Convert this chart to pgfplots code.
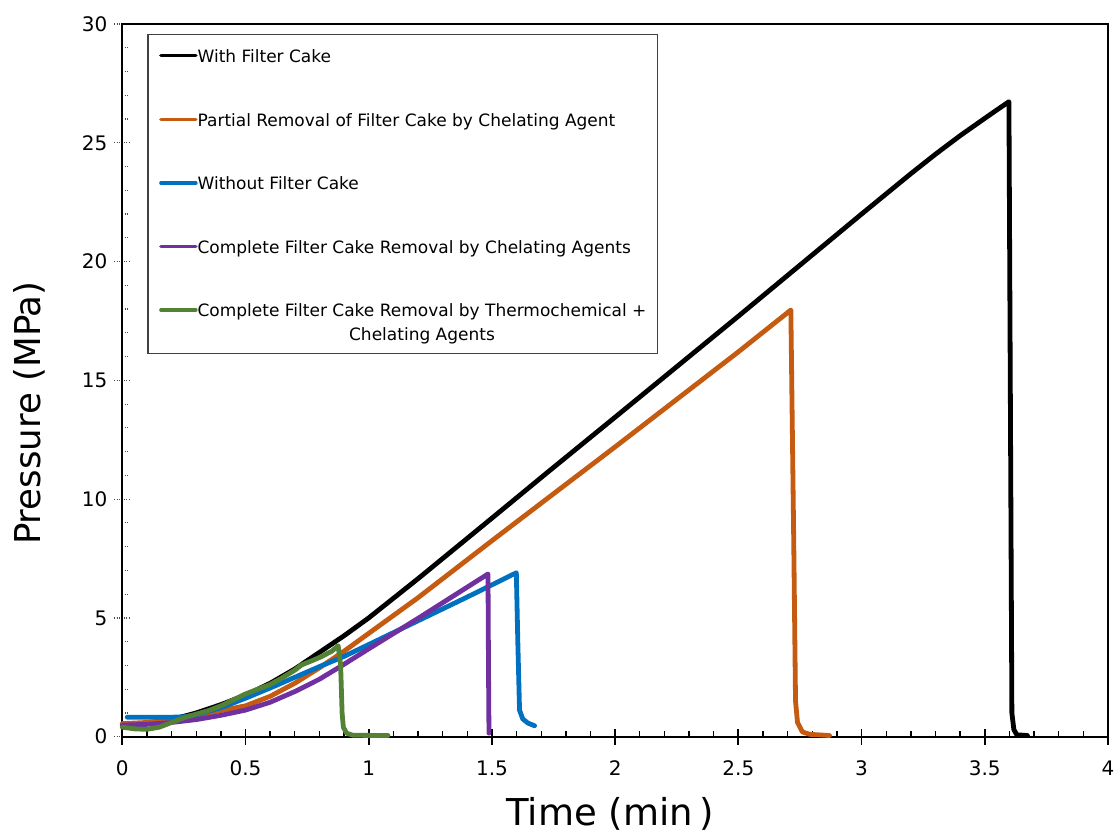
\documentclass[border=0pt]{standalone}
\usepackage{pgfplots}
\pgfplotsset{compat=1.18}
\usepackage{fontspec}
\setmainfont{DejaVu Sans}
\definecolor{cOrange}{RGB}{197,90,17}
\definecolor{cBlue}{RGB}{0,112,192}
\definecolor{cPurple}{RGB}{112,48,160}
\definecolor{cGreen}{RGB}{84,130,53}
\pgfplotsset{raisedlegend/.style={legend image code/.code={\draw[##1, line width=1.7pt] (0pt,6pt) -- (17.5pt,6pt);}}}
\newcommand{\thermo}{\begin{tabular}[b]{@{}c@{}}Complete Filter Cake Removal by Thermochemical +\\Chelating Agents\end{tabular}}
\begin{document}
\begin{tikzpicture}
\path[use as bounding box] (-61.15pt,-47.65pt) rectangle (496.35pt,368.35pt);
\begin{axis}[
  scale only axis, width=492.85pt, height=356.35pt,
  xmin=0, xmax=4, ymin=0, ymax=30,
  clip=false,
  xtick={0,0.5,...,4}, ytick={0,5,...,30},
  minor x tick num=4, minor y tick num=4,
  axis line style={line width=0.9pt},
  tick align=center,
  xtick pos=bottom, ytick pos=left,
  major tick length=8pt, minor tick length=3pt,
  major x tick style={line width=0.9pt, black},
  minor x tick style={line width=0.7pt, black, yshift=1.5pt},
  major y tick style={densely dotted, line width=0.6pt, black!70},
  minor y tick style={densely dotted, line width=0.6pt, black!70, xshift=1.5pt},
  /pgf/number format/assume math mode=true,
  tick label style={font=\fontsize{10}{12}\selectfont},
  xticklabel style={yshift=-4.5pt},
  xlabel={Time (min\,)},
  ylabel={Pressure (MPa)},
  xlabel style={at={(axis description cs:0.4948,0)}, anchor=base, yshift=-44.2pt, font=\fontsize{18.5}{20}\selectfont},
  ylabel style={at={(axis description cs:-0.0825,0.454)}, anchor=base, font=\fontsize{17.8}{20}\selectfont},
  legend style={at={(0,1)}, anchor=north west, xshift=12.5pt, yshift=-5pt,
    draw=black!75, line width=0.7pt, inner xsep=5.6pt, inner ysep=4.2pt,
    row sep=20.15pt, column sep=0pt, font=\fontsize{8.5}{11.65}\selectfont,
    nodes={inner xsep=0pt, inner ysep=1pt}},
  legend cell align=left,
  legend image code/.code={\draw[#1, line width=1.7pt] (0pt,0pt) -- (17.5pt,0pt);},
  every axis plot/.append style={line width=2.4pt, line join=round, line cap=round},
]
\addplot[black] coordinates {(0,0.49)(0.1,0.55)(0.2,0.72)(0.3,1.0)(0.4,1.35)(0.5,1.75)(0.6,2.25)(0.7,2.85)(0.8,3.55)(0.9,4.25)(1.0,5.0)(1.2,6.65)(1.5,9.2)(1.734,11.2)(2.0,13.45)(2.5,17.7)(2.75,19.85)(3.0,22.0)(3.1,22.85)(3.2,23.7)(3.3,24.52)(3.4,25.3)(3.5,26.03)(3.55,26.39)(3.598,26.73)(3.61,1.0)(3.618,0.3)(3.63,0.08)(3.673,0.05)};
\addlegendentry{\rule{0pt}{8.65pt}With Filter Cake\strut}
\addplot[cOrange] coordinates {(0,0.55)(0.1,0.6)(0.2,0.72)(0.3,0.9)(0.4,1.1)(0.5,1.3)(0.6,1.7)(0.7,2.25)(0.8,2.9)(0.9,3.6)(1.0,4.35)(1.1,5.1)(1.2,5.85)(1.5,8.25)(1.734,10.1)(2.0,12.2)(2.5,16.2)(2.713,17.96)(2.725,8)(2.732,1.5)(2.74,0.6)(2.76,0.2)(2.79,0.1)(2.87,0.05)};
\addlegendentry{Partial Removal of Filter Cake by Chelating Agent\strut}
\addplot[cBlue] coordinates {(0.02,0.82)(0.1,0.82)(0.2,0.82)(0.25,0.84)(0.3,0.92)(0.4,1.22)(0.5,1.62)(0.6,2.05)(0.7,2.5)(0.8,2.95)(0.9,3.38)(1.0,3.88)(1.2,4.88)(1.4,5.88)(1.599,6.9)(1.605,4)(1.612,1.12)(1.625,0.75)(1.645,0.58)(1.673,0.46)};
\addlegendentry{Without Filter Cake\strut}
\addplot[cPurple] coordinates {(0,0.49)(0.1,0.52)(0.2,0.6)(0.3,0.72)(0.4,0.9)(0.5,1.12)(0.6,1.45)(0.7,1.9)(0.8,2.42)(0.9,3.05)(1.0,3.7)(1.2,4.98)(1.484,6.85)(1.486,3)(1.488,0.15)};
\addlegendentry{Complete Filter Cake Removal by Chelating Agents\strut}
\addplot[cGreen, raisedlegend] coordinates {(0,0.4)(0.05,0.33)(0.1,0.31)(0.15,0.4)(0.2,0.6)(0.25,0.8)(0.31,0.98)(0.35,1.1)(0.4,1.3)(0.45,1.55)(0.5,1.8)(0.55,2.0)(0.6,2.2)(0.646,2.46)(0.7,2.8)(0.727,3.02)(0.77,3.2)(0.808,3.37)(0.85,3.6)(0.876,3.83)(0.886,3.0)(0.892,1.0)(0.897,0.4)(0.91,0.15)(0.936,0.06)(1.078,0.05)};
\addlegendentry{\thermo}
\end{axis}
\end{tikzpicture}
\end{document}
